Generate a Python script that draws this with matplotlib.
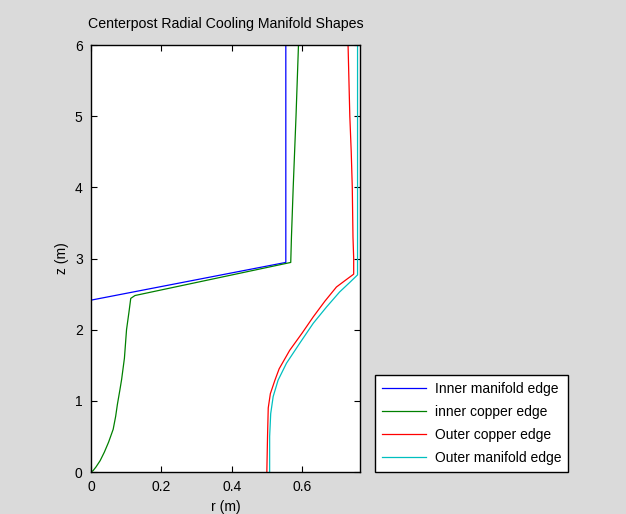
import matplotlib
matplotlib.use("Agg")
import matplotlib.pyplot as plt

plt.rcParams['font.family'] = ['Liberation Sans', 'DejaVu Sans']

# Inner manifold edge
blue_r = [0.0, 0.0, 0.554, 0.554]
blue_z = [0.0, 2.415, 2.945, 6.0]

# inner copper edge
green_r = [0.0, 0.006, 0.014, 0.026, 0.038, 0.050, 0.063, 0.070, 0.075, 0.082, 0.087,
           0.095, 0.101, 0.108, 0.113, 0.125, 0.568, 0.570, 0.575, 0.583, 0.590]
green_z = [0.0, 0.02, 0.07, 0.16, 0.28, 0.42, 0.6, 0.78, 0.95, 1.15, 1.3,
           1.6, 2.0, 2.25, 2.44, 2.48, 2.945, 3.3, 4.0, 5.0, 6.0]

# Outer copper edge
red_r = [0.500, 0.502, 0.504, 0.510, 0.523, 0.535, 0.565, 0.600, 0.632, 0.665,
         0.698, 0.725, 0.747, 0.747, 0.745, 0.743, 0.740, 0.736, 0.733, 0.731]
red_z = [0.0, 0.5, 0.9, 1.1, 1.29, 1.45, 1.71, 1.95, 2.18, 2.40,
         2.60, 2.70, 2.78, 3.0, 3.3, 4.0, 4.5, 5.0, 5.6, 6.0]

# Outer manifold edge
cyan_r = [0.508, 0.508, 0.511, 0.518, 0.532, 0.556, 0.595, 0.632, 0.670, 0.707,
          0.735, 0.758, 0.758]
cyan_z = [0.0, 0.5, 0.82, 1.06, 1.29, 1.53, 1.82, 2.09, 2.32, 2.53,
          2.66, 2.77, 6.0]

labels = ['Inner manifold edge', 'inner copper edge', 'Outer copper edge', 'Outer manifold edge']

fig = plt.figure(figsize=(6.26, 5.14), dpi=100, facecolor='#dadada')
ax = fig.add_axes([0.1454, 0.0817, 0.4297, 0.8307])

lw = 0.9
ax.plot(blue_r, blue_z, color=(0, 0, 1), linewidth=lw, label=labels[0])
ax.plot(green_r, green_z, color=(0, 0.5, 0), linewidth=lw, label=labels[1])
ax.plot(red_r, red_z, color=(1, 0, 0), linewidth=lw, label=labels[2])
ax.plot(cyan_r, cyan_z, color=(0, 0.75, 0.75), linewidth=lw, label=labels[3])

ax.set_xlim(0, 0.765)
ax.set_ylim(0, 6)
ax.set_xticks([0, 0.2, 0.4, 0.6])
ax.set_xticklabels(['0', '0.2', '0.4', '0.6'])
ax.set_yticks(range(7))
ax.tick_params(direction='in', length=4, width=0.8, top=True, right=True,
               labelsize=10, pad=6)
for s in ax.spines.values():
    s.set_linewidth(1.0)

ax.set_title('Centerpost Radial Cooling Manifold Shapes', fontsize=10.2, pad=12)
ax.set_xlabel('r (m)', fontsize=10, labelpad=4)
ax.set_ylabel('z (m)', fontsize=10, labelpad=4)

leg = fig.legend(loc='lower left', bbox_to_anchor=(0.599, 0.0817), fontsize=10,
                 fancybox=False, framealpha=1, edgecolor='black', handlelength=3.2,
                 labelspacing=0.65, borderpad=0.5, handletextpad=0.6, borderaxespad=0)
leg.get_frame().set_linewidth(1.0)

fig.savefig('out.png', dpi=100, facecolor=fig.get_facecolor())
